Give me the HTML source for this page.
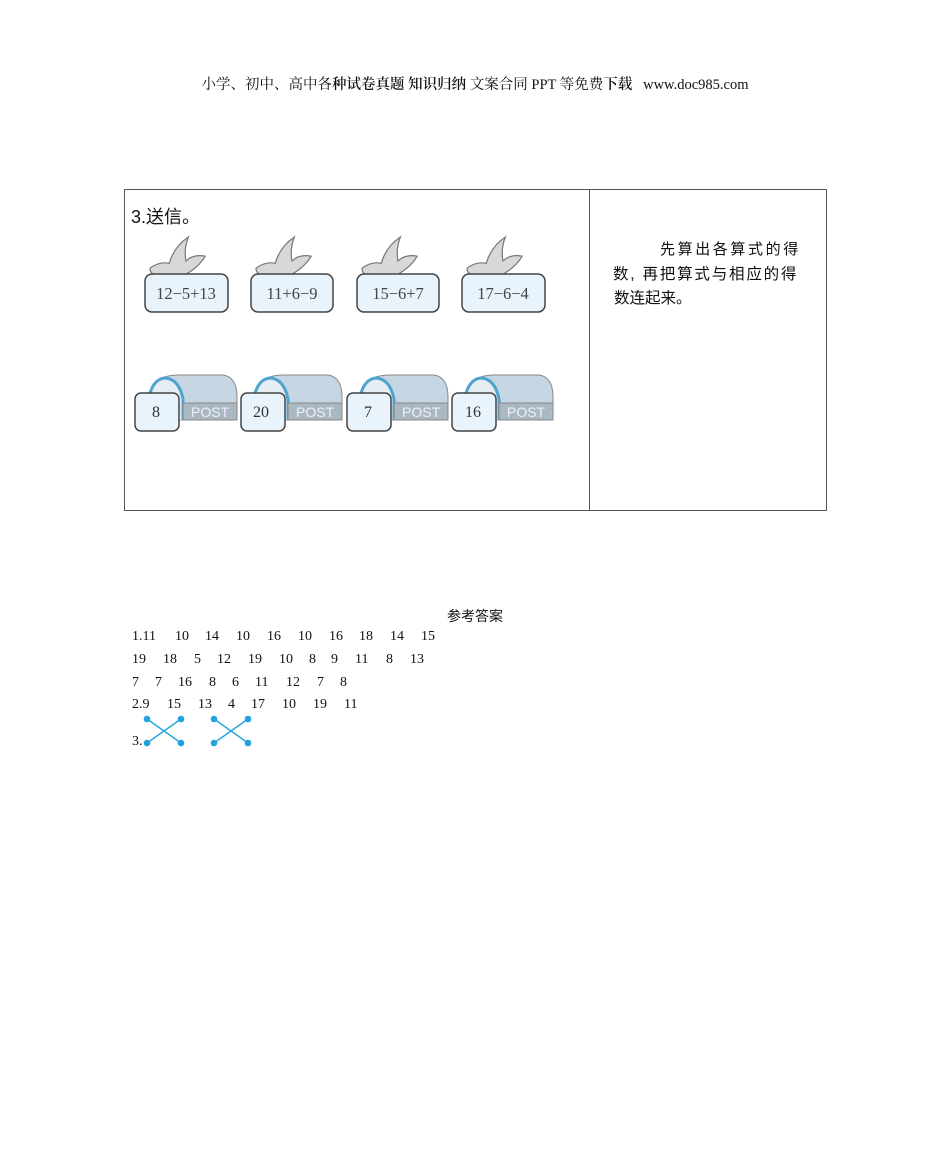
<!DOCTYPE html>
<html><head><meta charset="utf-8"><style>
body{margin:0;width:950px;height:1167px;background:#fff;position:relative;font-family:"Liberation Serif","Noto Serif CJK SC",serif;color:#111;overflow:hidden}
.a{position:absolute;white-space:nowrap}
.s{font-family:"Liberation Sans","Noto Sans CJK SC",sans-serif}
.n{font-size:14px;line-height:16px}
</style></head><body>
<div class="a" style="left:0;width:950px;top:73px;text-align:center;font-size:14.5px;">小学、初中、高中各<b style="font-weight:600">种试卷真题 知识归纳</b> 文案合同 PPT 等免费<b style="font-weight:600">下载</b>&nbsp;&nbsp;&nbsp;www.doc985.com</div>

<div class="a" style="left:124px;top:189px;width:701px;height:320px;border:1px solid #555;"></div>
<div class="a" style="left:589px;top:189px;width:1px;height:321px;background:#555;"></div>

<div class="a s" style="left:131px;top:203px;font-size:18px;">3.送信。</div>

<svg class="a" style="left:0;top:0" width="950" height="520">
<defs>
<g id="dove" transform="scale(1.2)"><path d="M0,26 Q8,20 16,22 Q20,8 32,0 Q28,10 30,20 Q36,14 46,16 Q40,26 28,32 L6,32 Q0,31 0,26Z" fill="#d8d8d8" stroke="#777" stroke-width="1"/></g>
<g id="post"><path d="M14,45 L14,20 Q18,0 44,0 L88,0 Q102,2 102,22 L102,45Z" fill="#c5d6e2" stroke="#888"/>
<path d="M14,45 L14,22 Q18,4 30,3 Q44,4 48,24 L48,45" fill="#e6eef3" stroke="#4fa3d0" stroke-width="3"/>
<rect x="48" y="28" width="54" height="17" fill="#aab8c2" stroke="#888"/>
<text x="56" y="42" font-family="Liberation Sans" font-size="14" fill="#eef">POST</text></g>
</defs>
<use href="#dove" x="150" y="237"/><use href="#dove" x="256" y="237"/><use href="#dove" x="362" y="237"/><use href="#dove" x="467" y="237"/>
<g fill="#e8f3fb" stroke="#444" stroke-width="1.5">
<rect x="145" y="274" width="83" height="38" rx="7"/><rect x="251" y="274" width="82" height="38" rx="7"/>
<rect x="357" y="274" width="82" height="38" rx="7"/><rect x="462" y="274" width="83" height="38" rx="7"/>
</g>
<g font-family="Liberation Serif" font-size="16.5" fill="#444" text-anchor="middle">
<text x="186" y="299">12−5+13</text><text x="292" y="299">11+6−9</text><text x="398" y="299">15−6+7</text><text x="503" y="299">17−6−4</text>
</g>
<use href="#post" x="135" y="375"/><use href="#post" x="240" y="375"/><use href="#post" x="346" y="375"/><use href="#post" x="451" y="375"/>
<g fill="#e8f3fb" stroke="#444" stroke-width="1.5">
<rect x="135" y="393" width="44" height="38" rx="6"/><rect x="241" y="393" width="44" height="38" rx="6"/>
<rect x="347" y="393" width="44" height="38" rx="6"/><rect x="452" y="393" width="44" height="38" rx="6"/>
</g>
<g font-family="Liberation Serif" font-size="16" fill="#333" text-anchor="middle">
<text x="156" y="417">8</text><text x="261" y="417">20</text><text x="368" y="417">7</text><text x="473" y="417">16</text>
</g>
</svg>

<div class="a s" style="left:660px;top:238px;font-size:15px;letter-spacing:2.6px">先算出各算式的得</div>
<div class="a s" style="left:613px;top:262px;font-size:15.5px;letter-spacing:1.8px">数, 再把算式与相应的得</div>
<div class="a s" style="left:614px;top:286px;font-size:15.5px;">数连起来。</div>

<div class="a s" style="left:0;width:950px;text-align:center;top:606px;font-size:14px;">参考答案</div>

<div class="a n" style="left:132px;top:629px">1.11</div><div class="a n" style="left:175px;top:629px">10</div><div class="a n" style="left:205px;top:629px">14</div><div class="a n" style="left:236px;top:629px">10</div><div class="a n" style="left:267px;top:629px">16</div><div class="a n" style="left:298px;top:629px">10</div><div class="a n" style="left:329px;top:629px">16</div><div class="a n" style="left:359px;top:629px">18</div><div class="a n" style="left:390px;top:629px">14</div><div class="a n" style="left:421px;top:629px">15</div>

<div class="a n" style="left:132px;top:652px">19</div><div class="a n" style="left:163px;top:652px">18</div><div class="a n" style="left:194px;top:652px">5</div><div class="a n" style="left:217px;top:652px">12</div><div class="a n" style="left:248px;top:652px">19</div><div class="a n" style="left:279px;top:652px">10</div><div class="a n" style="left:309px;top:652px">8</div><div class="a n" style="left:331px;top:652px">9</div><div class="a n" style="left:355px;top:652px">11</div><div class="a n" style="left:386px;top:652px">8</div><div class="a n" style="left:410px;top:652px">13</div>

<div class="a n" style="left:132px;top:675px">7</div><div class="a n" style="left:155px;top:675px">7</div><div class="a n" style="left:178px;top:675px">16</div><div class="a n" style="left:209px;top:675px">8</div><div class="a n" style="left:232px;top:675px">6</div><div class="a n" style="left:255px;top:675px">11</div><div class="a n" style="left:286px;top:675px">12</div><div class="a n" style="left:317px;top:675px">7</div><div class="a n" style="left:340px;top:675px">8</div>

<div class="a n" style="left:132px;top:697px">2.9</div><div class="a n" style="left:167px;top:697px">15</div><div class="a n" style="left:198px;top:697px">13</div><div class="a n" style="left:228px;top:697px">4</div><div class="a n" style="left:251px;top:697px">17</div><div class="a n" style="left:282px;top:697px">10</div><div class="a n" style="left:313px;top:697px">19</div><div class="a n" style="left:344px;top:697px">11</div>

<div class="a n" style="left:132px;top:734px">3.</div>
<svg class="a" style="left:0;top:700px" width="300" height="60">
<g stroke="#2aa7dc" stroke-width="1.5"><line x1="147" y1="19" x2="181" y2="43"/><line x1="181" y1="19" x2="147" y2="43"/><line x1="214" y1="19" x2="248" y2="43"/><line x1="248" y1="19" x2="214" y2="43"/></g>
<g fill="#1fa3dd"><circle cx="147" cy="19" r="3.3"/><circle cx="181" cy="19" r="3.3"/><circle cx="147" cy="43" r="3.3"/><circle cx="181" cy="43" r="3.3"/><circle cx="214" cy="19" r="3.3"/><circle cx="248" cy="19" r="3.3"/><circle cx="214" cy="43" r="3.3"/><circle cx="248" cy="43" r="3.3"/></g>
</svg>
</body></html>
